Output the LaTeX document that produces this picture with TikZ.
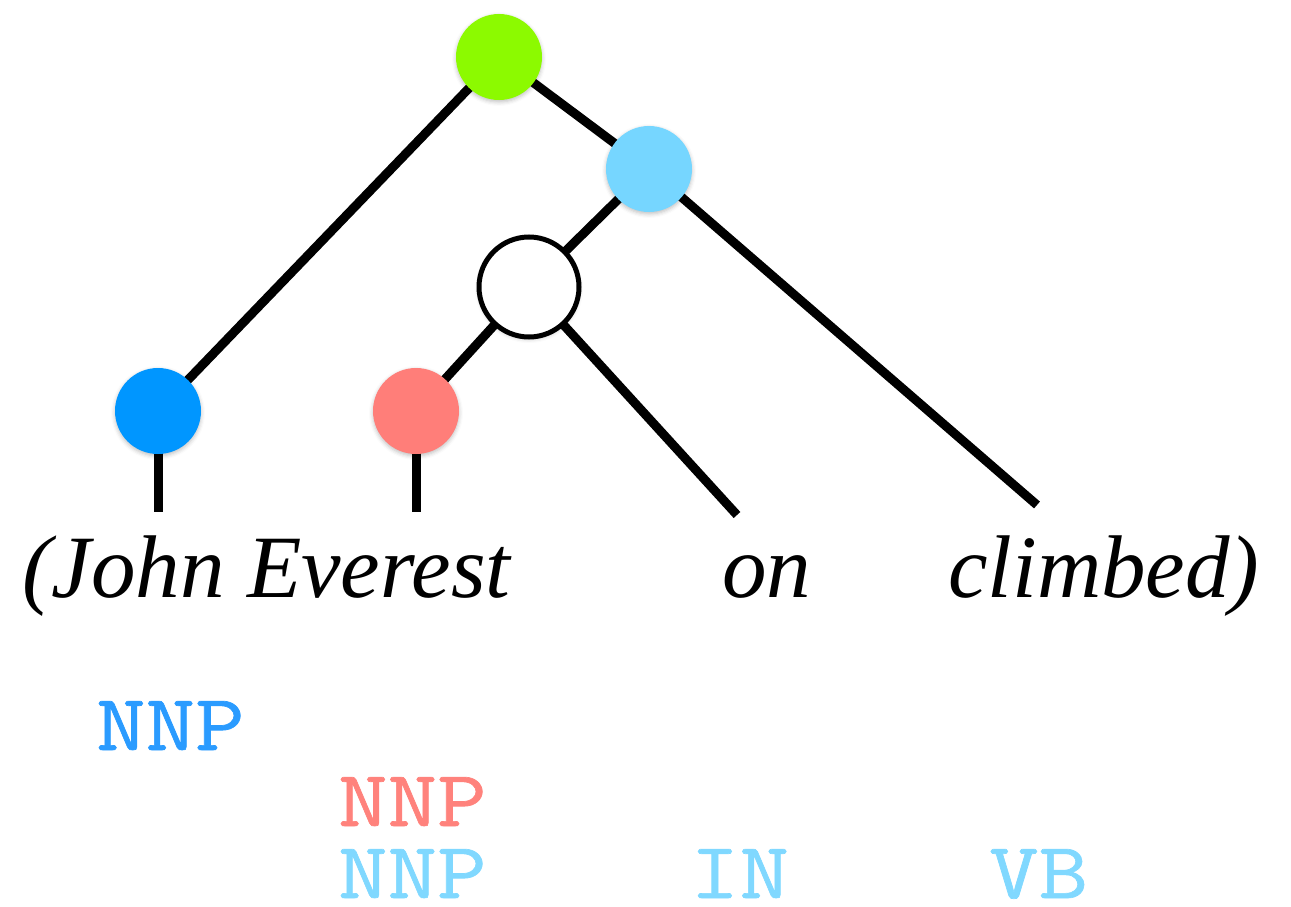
\documentclass[tikz,border=0pt]{standalone}
\usepackage{fontspec}
\setmainfont{Liberation Serif}
\newfontfamily\tagfont[FakeStretch=1.2, FakeBold=0.9]{Latin Modern Mono}
\usetikzlibrary{shadows.blur}
\definecolor{rootgreen}{HTML}{8CFA00}
\definecolor{vpblue}{HTML}{76D6FF}
\definecolor{johnblue}{HTML}{0096FF}
\definecolor{evred}{HTML}{FF7E79}
\definecolor{tagblue}{HTML}{2A9BFF}
\definecolor{tagred}{HTML}{FF827C}
\definecolor{taglight}{HTML}{80D8FF}
\tikzset{
  treenode/.style={circle, minimum size=86pt, inner sep=0pt,
    blur shadow={shadow xshift=0pt, shadow yshift=-2pt, shadow blur radius=4pt, shadow opacity=25}},
  edge/.style={line width=9pt, black},
  word/.style={anchor=base west, inner sep=0pt, font=\fontsize{89}{100}\selectfont\itshape},
  tag/.style={anchor=base west, inner sep=0pt, font=\fontsize{80}{90}\selectfont\tagfont}
}
\begin{document}
\begin{tikzpicture}[x=1pt, y=-1pt]
\useasboundingbox (0,0) rectangle (1291,907);

% leaf ends of the branches
\coordinate (johnend) at (158,512);
\coordinate (evend) at (416,512);
\coordinate (onend) at (737,515);
\coordinate (climbend) at (1037,505);

% tree node centres (circles are drawn after the branches)
\coordinate (root) at (499,57);
\coordinate (vp) at (649,169);
\coordinate (pp) at (529,287);
\coordinate (john) at (158,411);
\coordinate (ev) at (416,411);

% branches
\draw[edge] (root) -- (john);
\draw[edge] (root) -- (vp);
\draw[edge] (vp) -- (pp);
\draw[edge] (vp) -- (climbend);
\draw[edge] (pp) -- (ev);
\draw[edge] (pp) -- (onend);
\draw[edge] (john) -- (johnend);
\draw[edge] (ev) -- (evend);

% circles
\node[treenode, fill=rootgreen] (nroot) at (root) {};
\node[treenode, fill=vpblue] (nvp) at (vp) {};
\node[treenode, fill=white, draw=black, line width=5pt, minimum size=100pt] (npp) at (pp) {};
\node[treenode, fill=johnblue] (njohn) at (john) {};
\node[treenode, fill=evred] (nev) at (ev) {};

% words
\node[word] (w1) at (22,597) {(John Everest};
\node[word] (w2) at (722,597) {on};
\node[word] (w3) at (948,597) {climbed)};

% tags
\node[tag, text=tagblue] (t1) at (96,750) {NNP};
\node[tag, text=tagred] (t2) at (338,826) {NNP};
\node[tag, text=taglight] (t3) at (338,898) {NNP};
\node[tag, text=taglight] (t4) at (690,898) {IN};
\node[tag, text=taglight] (t5) at (989,898) {VB};
\end{tikzpicture}
\end{document}
